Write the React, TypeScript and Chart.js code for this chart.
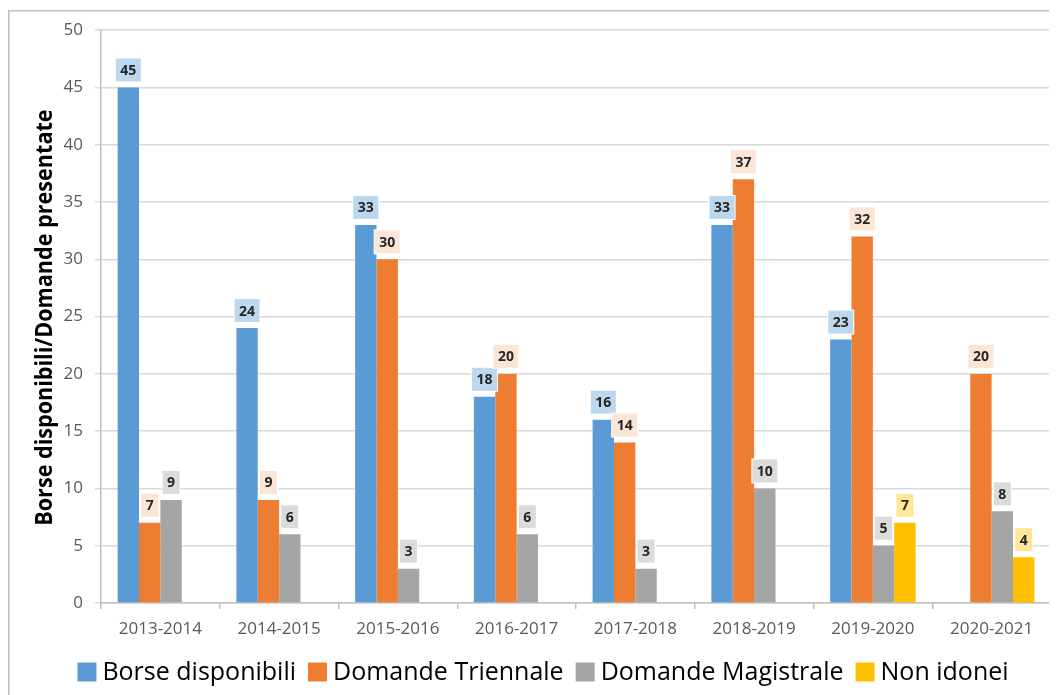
import React, { useEffect, useRef } from "react";
import { Chart, registerables } from "chart.js";

Chart.register(...registerables);

const categories = [
  "2013-2014",
  "2014-2015",
  "2015-2016",
  "2016-2017",
  "2017-2018",
  "2018-2019",
  "2019-2020",
  "2020-2021",
];
const borseDisponibili = [45, 24, 33, 18, 16, 33, 23, null];
const domandeTriennale = [7, 9, 30, 20, 14, 37, 32, 20];
const domandeMagistrale = [9, 6, 3, 6, 3, 10, 5, 8];
const nonIdonei = [null, null, null, null, null, null, 7, 4];
const seriesNames = ["Borse disponibili", "Domande Triennale", "Domande Magistrale", "Non idonei"];
const seriesColors = ["#5B9BD5", "#ED7D31", "#A5A5A5", "#FFC000"];
const labelColors = ["#BDD7EE", "#FBE5D6", "#DBDBDB", "#FFE699"];
const yTitle = "Borse disponibili/Domande presentate";
const yMin = 0;
const yMax = 50;
const yStep = 5;

const FONT = "'Open Sans', Lato, sans-serif";

const framePlugin = {
  id: "frame",
  beforeDraw(chart: any) {
    const ctx = chart.ctx;
    ctx.save();
    ctx.strokeStyle = "#BFBFBF";
    ctx.lineWidth = 1.5;
    ctx.strokeRect(0.75, 2.75, chart.width + 20, chart.height + 20);
    ctx.restore();
  },
};

const yTitlePlugin = {
  id: "yTitle",
  afterDraw(chart: any) {
    const ctx = chart.ctx;
    const area = chart.chartArea;
    ctx.save();
    ctx.translate(44, (area.top + area.bottom) / 2 + 1);
    ctx.rotate(-Math.PI / 2);
    ctx.scale(0.9, 1);
    ctx.font = `bold 24px ${FONT}`;
    ctx.fillStyle = "#000000";
    ctx.textAlign = "center";
    ctx.textBaseline = "alphabetic";
    ctx.fillText(yTitle, 0, 0);
    ctx.restore();
  },
};

const boxLabelPlugin = {
  id: "boxLabels",
  afterDatasetsDraw(chart: any) {
    const ctx = chart.ctx;
    ctx.save();
    chart.data.datasets.forEach((ds: any, i: number) => {
      const meta = chart.getDatasetMeta(i);
      meta.data.forEach((bar: any, j: number) => {
        const v = ds.data[j];
        if (v == null) return;
        const text = String(v);
        ctx.font = `bold 14px ${FONT}`;
        const w = ctx.measureText(text).width + 9;
        const h = 23;
        const x = bar.x;
        const top = bar.y - 6 - h;
        ctx.fillStyle = "#FFFFFF";
        ctx.fillRect(x - w / 2 - 1, top - 1, w + 2, h + 2);
        ctx.fillStyle = labelColors[i];
        ctx.fillRect(x - w / 2, top, w, h);
        ctx.fillStyle = "#262626";
        ctx.textAlign = "center";
        ctx.textBaseline = "middle";
        ctx.fillText(text, x, top + h / 2 + 1);
      });
    });
    ctx.restore();
  },
};

const legendPlugin = {
  id: "customLegend",
  afterDraw(chart: any) {
    const ctx = chart.ctx;
    ctx.save();
    ctx.font = `25px ${FONT}`;
    const box = 19;
    const gap = 6;
    const itemGap = 12;
    const widths = seriesNames.map((n) => ctx.measureText(n).width);
    const total =
      widths.reduce((a, b) => a + b, 0) + seriesNames.length * (box + gap) + (seriesNames.length - 1) * itemGap;
    let x = 535 - total / 2;
    const cy = 664;
    seriesNames.forEach((n, i) => {
      ctx.fillStyle = seriesColors[i];
      ctx.fillRect(x, cy - box / 2, box, box);
      x += box + gap;
      ctx.fillStyle = "#000000";
      ctx.textAlign = "left";
      ctx.textBaseline = "middle";
      ctx.fillText(n, x, cy + 1);
      x += widths[i] + itemGap;
    });
    ctx.restore();
  },
};

export default function App() {
  const canvasRef = useRef<HTMLCanvasElement | null>(null);

  useEffect(() => {
    if (!canvasRef.current) return;
    const seriesData = [borseDisponibili, domandeTriennale, domandeMagistrale, nonIdonei];
    const chart = new Chart(canvasRef.current, {
      type: "bar",
      data: {
        labels: categories,
        datasets: seriesNames.map((name, i) => ({
          label: name,
          data: seriesData[i] as any,
          backgroundColor: seriesColors[i],
          borderWidth: 0,
          barPercentage: 1,
          categoryPercentage: 0.72,
        })),
      },
      options: {
        animation: false,
        responsive: true,
        maintainAspectRatio: false,
        layout: { padding: { left: 0, right: 6, top: 21, bottom: 47 } },
        plugins: {
          legend: { display: false },
          tooltip: { enabled: false },
        },
        scales: {
          x: {
            grid: {
              display: true,
              drawOnChartArea: false,
              drawTicks: true,
              tickLength: 6,
              color: "#BFBFBF",
              lineWidth: 1.5,
              offset: true,
            },
            border: { color: "#BFBFBF", width: 1.5 },
            ticks: {
              color: "#595959",
              font: { family: FONT, size: 17 },
              padding: 10,
              maxRotation: 0,
            },
            afterFit(scale: any) {
              scale.height = 45;
            },
          },
          y: {
            min: yMin,
            max: yMax,
            ticks: {
              stepSize: yStep,
              color: "#595959",
              font: { family: FONT, size: 17 },
              padding: 12,
            },
            grid: {
              color: "#D9D9D9",
              lineWidth: 1.5,
              tickLength: 6,
              drawTicks: true,
            },
            border: { color: "#BFBFBF", width: 1.5 },
            title: { display: false },
            afterFit(scale: any) {
              scale.width = 93;
            },
          },
        },
      },
      plugins: [framePlugin, boxLabelPlugin, yTitlePlugin, legendPlugin],
    });
    return () => chart.destroy();
  }, []);

  return (
    <div style={{ position: "relative", width: 1049, height: 687, overflow: "hidden" }}>
      <canvas ref={canvasRef} />
    </div>
  );
}
